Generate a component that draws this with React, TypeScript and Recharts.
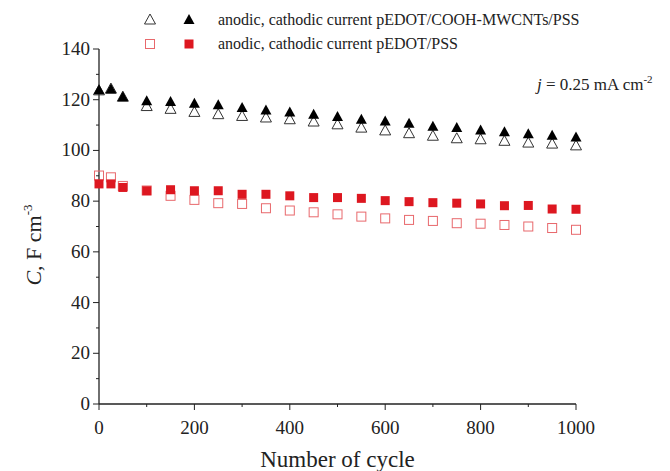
import React from 'react';
import { ScatterChart, Scatter, XAxis, YAxis } from 'recharts';

const cycles = [0, 25, 50, 100, 150, 200, 250, 300, 350, 400, 450, 500, 550, 600, 650, 700, 750, 800, 850, 900, 950, 1000];

// pEDOT/COOH-MWCNTs/PSS
const anodicComposite = [123.5, 124.2, 121, 117.3, 116.2, 115, 114.1, 113.4, 112.8, 112.1, 111.2, 110.1, 108.8, 107.7, 106.6, 105.6, 104.6, 104.2, 103.6, 102.9, 102.5, 101.8];
const cathodicComposite = [123.7, 124, 121, 119.4, 119.1, 118.4, 117.8, 116.7, 115.7, 115, 114.1, 113.2, 112.1, 111.4, 110.5, 109.3, 108.8, 107.9, 107.2, 106.4, 105.8, 105.1];

// pEDOT/PSS
const anodicPlain = [90.1, 89.4, 86, 84.2, 82.1, 80.5, 79.2, 78.9, 77.2, 76.3, 75.6, 74.8, 73.9, 73.2, 72.6, 72.2, 71.3, 71.1, 70.6, 70, 69.4, 68.7];
const cathodicPlain = [86.8, 86.8, 85.4, 84.1, 84.5, 84.1, 84.1, 82.7, 82.7, 82.1, 81.4, 81.4, 81.1, 80.2, 79.8, 79.4, 79.2, 78.9, 78.2, 78.3, 76.9, 76.8];

const xTicks = [0, 100, 200, 300, 400, 500, 600, 700, 800, 900, 1000];
const yTicks = [0, 10, 20, 30, 40, 50, 60, 70, 80, 90, 100, 110, 120, 130, 140];

const toPoints = (ys: number[]) => cycles.map((x, i) => ({ x, y: ys[i] }));

const FONT = '"Liberation Serif", "Times New Roman", serif';
const AXIS = '#222';
const RED = '#dd1720';
const PINK = '#e8686c';

const triPath = (cx: number, cy: number) =>
   `${cx},${cy - 6} ${cx - 5.5},${cy + 4} ${cx + 5.5},${cy + 4}`;

const OpenTriangle = (p: any) => (
   <polygon points={triPath(p.cx, p.cy)} fill='white' fillOpacity={0} stroke='#333' strokeWidth={1} />
);
const FilledTriangle = (p: any) => <polygon points={triPath(p.cx, p.cy)} fill='#000' />;
const OpenSquare = (p: any) => (
   <rect x={p.cx - 4.5} y={p.cy - 4.5} width={9} height={9} fill='none' stroke={PINK} strokeWidth={1} />
);
const FilledSquare = (p: any) => <rect x={p.cx - 4.5} y={p.cy - 4.5} width={9} height={9} fill={RED} />;

const XTick = (props: any) => {
   const { x, y, payload } = props;
   const major = payload.value % 200 === 0;
   return (
      <g>
         <line x1={x} y1={y} x2={x} y2={y + (major ? 6 : 3)} stroke={AXIS} strokeWidth={1} />
         {major && (
            <text x={x} y={y + 30} textAnchor='middle' fontFamily={FONT} fontSize={19} fill='#222'>
               {payload.value}
            </text>
         )}
      </g>
   );
};

const YTick = (props: any) => {
   const { x, y, payload } = props;
   const major = payload.value % 20 === 0;
   return (
      <g>
         <line x1={x} y1={y} x2={x - (major ? 6 : 3)} y2={y} stroke={AXIS} strokeWidth={1} />
         {major && (
            <text x={x - 9} y={y + 6} textAnchor='end' fontFamily={FONT} fontSize={19} fill='#222'>
               {payload.value}
            </text>
         )}
      </g>
   );
};

const YLabel = ({ viewBox }: any) => {
   const cx = viewBox.x + 2;
   const cy = 245;
   return (
      <text x={cx} y={cy} transform={`rotate(-90, ${cx}, ${cy})`} textAnchor='middle' fontFamily={FONT} fontSize={22} fill='#222'>
         <tspan fontStyle='italic'>C</tspan>
         <tspan>, F cm</tspan>
         <tspan fontSize={13} dy={-9}>-3</tspan>
      </text>
   );
};

const XLabel = ({ viewBox }: any) => (
   <text x={viewBox.x + viewBox.width / 2} y={viewBox.y + 63} textAnchor='middle' fontFamily={FONT} fontSize={23} fill='#222'>
      Number of cycle
   </text>
);

const Overlay = () => (
   <svg width={670} height={471} style={{ position: 'absolute', left: 0, top: 0, pointerEvents: 'none' }}>
      <OpenTriangle cx={150} cy={20} />
      <FilledTriangle cx={189} cy={20} />
      <text x={218} y={25} fontFamily={FONT} fontSize={16} fill='#222'>
         anodic, cathodic current pEDOT/COOH-MWCNTs/PSS
      </text>
      <OpenSquare cx={150} cy={44} />
      <FilledSquare cx={189} cy={44} />
      <text x={218} y={49} fontFamily={FONT} fontSize={16} fill='#222'>
         anodic, cathodic current pEDOT/PSS
      </text>
      <text x={537} y={90} fontFamily={FONT} fontSize={17} fill='#222'>
         <tspan fontStyle='italic'>j</tspan>
         <tspan> = 0.25 mA cm</tspan>
         <tspan fontSize={11} dy={-7}>-2</tspan>
      </text>
   </svg>
);

export default function App() {
   return (
      <div style={{ position: 'absolute', left: 0, top: 0, width: 670, height: 471, background: '#fff' }}>
         <ScatterChart width={670} height={471} margin={{ top: 49, right: 94, bottom: 37, left: 39 }}>
            <XAxis
               type='number'
               dataKey='x'
               domain={[0, 1000]}
               ticks={xTicks}
               interval={0}
               tickSize={0}
               tickMargin={0}
               tick={<XTick />}
               axisLine={{ stroke: AXIS, strokeWidth: 1.3 }}
               height={30}
               label={<XLabel />}
            />
            <YAxis
               type='number'
               dataKey='y'
               domain={[0, 140]}
               ticks={yTicks}
               interval={0}
               tickSize={0}
               tickMargin={0}
               tick={<YTick />}
               axisLine={{ stroke: AXIS, strokeWidth: 1.3 }}
               width={60}
               label={<YLabel />}
            />
            <Scatter data={toPoints(anodicComposite)} shape={OpenTriangle} isAnimationActive={false} />
            <Scatter data={toPoints(cathodicComposite)} shape={FilledTriangle} isAnimationActive={false} />
            <Scatter data={toPoints(anodicPlain)} shape={OpenSquare} isAnimationActive={false} />
            <Scatter data={toPoints(cathodicPlain)} shape={FilledSquare} isAnimationActive={false} />
         </ScatterChart>
         <Overlay />
      </div>
   );
}
